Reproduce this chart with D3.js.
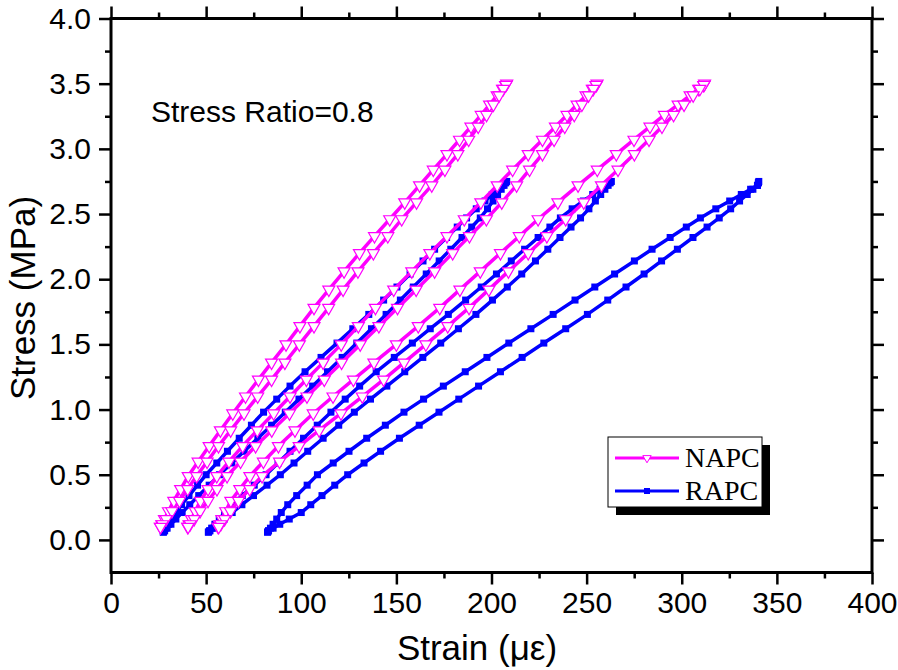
<!DOCTYPE html>
<html><head><meta charset="utf-8">
<script src="https://cdn.jsdelivr.net/npm/d3@7"></script>
<style>body{margin:0;background:#fff}svg{display:block}</style>
</head><body>
<svg id="chart" width="898" height="670"></svg>
<script>
// ---- tick labels ----
const xTicks = [0, 50, 100, 150, 200, 250, 300, 350, 400];
const xMinorTicks = [25, 75, 125, 175, 225, 275, 325, 375];
const yTicks = [0.0, 0.5, 1.0, 1.5, 2.0, 2.5, 3.0, 3.5, 4.0];
const yMinorTicks = [0.25, 0.75, 1.25, 1.75, 2.25, 2.75, 3.25, 3.75];
const seriesNames = ["NAPC", "RAPC"];
const annotation = "Stress Ratio=0.8";

// ---- NAPC (stress levels shared by the three loops, MPa) ----
const stressNAPC = [0.10,0.12,0.16,0.22,0.30,0.39,0.49,0.60,0.72,0.84,0.97,1.10,1.23,1.36,1.50,1.64,1.78,1.92,2.06,2.20,2.33,2.46,2.59,2.72,2.84,2.96,3.07,3.17,3.26,3.34,3.41,3.46,3.49,3.50];
// strain (με) – left / right branch of each loop
const napc1Left  = [26,26.7,28.1,30.2,33,36.6,40.6,45.8,51.6,57.5,64,70.7,77.5,84.4,92,99.3,106.7,114.5,122.5,130.6,138.5,146.5,154.4,162.2,169.4,176.6,183.2,189.2,194.6,199,203,205.8,207.4,208];
const napc1Right = [26,27,29,32,36,40.3,45,50.5,56.5,62.9,69.9,77.1,84.4,91.4,99,106.7,114.4,122,129.8,137.9,145.5,152.8,160.6,168.6,175.5,182.3,188,193,197.4,201,204,206.2,207.6,208];
const napc2Left  = [40.3,41,42.3,44.3,47,51,55.6,62,69.2,76.9,85.5,94.1,102.7,111.5,121,130,139,148.6,158.1,167.6,176.6,185.7,194.4,203,211.1,219.3,226.8,233.6,239.7,245,249.7,253,255,255.5];
const napc2Right = [40.5,41.6,43.7,46.8,51,55.7,61,68.1,76,84.5,93.8,103,112.1,121.2,131,140.8,150.6,160.4,170.1,179.6,188.4,197.3,205.4,213.2,220,226.8,232.9,238.5,243.5,247.5,251,253.5,255,255.5];
const napc3Left  = [56.3,57,58.3,60.3,63,67.7,73,80.1,88,96.7,106.3,116.7,127.4,138.2,150,161.5,172.8,183.4,194.1,204.7,214.6,224.5,234.9,245.5,255.6,265.6,274.9,283.3,290.9,298.1,304.4,308.9,311.6,312];
const napc3Right = [56.6,57.7,59.7,62.8,67,72.9,79.4,88.6,98.9,109.4,120.9,132.1,143.3,154,165.5,177,188.2,198.6,208.9,219.3,229.1,239,248.5,257.8,266.5,275.1,282.8,289.6,295.7,301.2,306,309.5,311.6,312];

// ---- RAPC ----
const stressRAPC = [0.06,0.07,0.09,0.12,0.16,0.21,0.27,0.34,0.42,0.50,0.59,0.68,0.78,0.88,0.98,1.08,1.18,1.29,1.40,1.51,1.62,1.73,1.84,1.94,2.04,2.14,2.23,2.32,2.40,2.47,2.54,2.60,2.65,2.69,2.72,2.74,2.75];
const rapc1Left  = [27.5,27.9,28.8,30.2,32,34.2,37.1,41,45.5,50,55.6,61.2,67.4,73.8,80.2,87.1,94.1,102,110.4,118.8,127.1,135.5,143.3,150.3,157.2,164,170.1,176.4,182,186.9,192,196.6,200.4,203.4,205.7,207.2,208];
const rapc1Right = [27.5,28.2,29.5,31.5,34.1,37.4,41.4,46.1,51.6,57,63.5,70,77.2,84.4,91.6,98.8,106,113.8,121.5,129.2,136.9,144.6,152.1,158.9,165.7,172.5,178.6,184.5,189.6,194.1,197.9,200.8,203.2,205.1,206.6,207.5,208];
const rapc2Left  = [51.2,51.8,52.9,54.6,56.9,59.7,63.6,69,75.3,81.5,87.8,94.1,101.2,108.4,115.6,123.1,130.7,139.4,148.9,158.4,167.8,177.3,186.4,194.6,202.6,210.4,217.4,224.5,230.7,236.2,242.4,248.3,253.2,257.1,260.1,262,263];
const rapc2Right = [51.2,52,53.7,56.2,59.5,63.7,68.8,74.9,82,89,96.2,103.4,111.5,119.7,127.9,136.4,145,154.4,163.9,173.3,182.6,191.8,200.5,208.3,215.9,223.1,229.6,236,241.8,246.8,251.2,254.6,257.4,259.6,261.3,262.4,263];
const rapc3Left  = [82.3,82.8,83.8,85.2,87.1,89.5,92.9,97.6,103.1,108.5,116.8,125.1,134.4,144.2,154,164.3,174.7,186.2,197.6,209.1,220.7,232.4,243.9,254.3,264.7,275.1,284.4,293.9,302.4,309.8,317.9,325.2,331.3,336.2,339.8,340.3,340.5];
const rapc3Right = [82.3,82.8,85.2,88.7,93.7,100,105,110.9,117.6,124.4,133,141.7,151.6,162,172.4,182.8,193.2,204.7,216.1,227.5,239,250.4,261.1,270.7,280.2,289.4,297.7,305.9,313.3,319.7,325.7,330.4,334.4,337.4,339.8,340.3,340.5];

// ---- build loops (up the left branch, back down the right branch) ----
function loop(stress, left, right) {
  const pts = stress.map((s, i) => [left[i], s]);
  for (let i = stress.length - 2; i >= 0; i--) pts.push([right[i], stress[i]]);
  return pts;
}
const napcLoops = [loop(stressNAPC, napc1Left, napc1Right), loop(stressNAPC, napc2Left, napc2Right), loop(stressNAPC, napc3Left, napc3Right)];
const rapcLoops = [loop(stressRAPC, rapc1Left, rapc1Right), loop(stressRAPC, rapc2Left, rapc2Right), loop(stressRAPC, rapc3Left, rapc3Right)];

const MAGENTA = "#ff00ff", BLUE = "#0000ff";
const SANS = "'Liberation Sans', Arial, Helvetica, sans-serif";
const SERIF = "'Liberation Serif', 'Times New Roman', serif";

const svg = d3.select("#chart");
const L = 111, R = 872, T = 18.5, B = 572.5;
const x = d3.scaleLinear().domain([0, 400]).range([L, R]);
const y = d3.scaleLinear().domain([-0.25, 4.0]).range([B, T]);

const line = d3.line().x(d => x(d[0])).y(d => y(d[1]));
const triPath = "M-6,-3.5 L6,-3.5 L0,6.9 Z";

const plot = svg.append("g");
function drawRAPC() {
  rapcLoops.forEach(pts => {
    plot.append("path").attr("d", line(pts)).attr("fill", "none")
      .attr("stroke", BLUE).attr("stroke-width", 3.5).attr("stroke-linejoin", "round");
    plot.append("g").selectAll("rect").data(pts).join("rect")
      .attr("x", d => x(d[0]) - 3.5).attr("y", d => y(d[1]) - 3.5)
      .attr("width", 7).attr("height", 7).attr("fill", BLUE);
  });
}
function drawNAPC() {
  napcLoops.forEach(pts => {
    plot.append("path").attr("d", line(pts)).attr("fill", "none")
      .attr("stroke", MAGENTA).attr("stroke-width", 3.5).attr("stroke-linejoin", "round");
    plot.append("g").selectAll("path").data(pts).join("path")
      .attr("d", triPath)
      .attr("transform", d => `translate(${x(d[0])},${y(d[1])})`)
      .attr("fill", "#fff").attr("stroke", MAGENTA).attr("stroke-width", 1.2);
  });
}
drawRAPC();
drawNAPC();

// ---- axes ----
function styleAxis(g) {
  g.select(".domain").remove();
  g.selectAll(".tick line").attr("stroke", "#000").attr("stroke-width", 2.5);
  g.selectAll(".tick text").attr("font-family", SANS).attr("font-size", 30).attr("fill", "#000");
}
svg.append("g").attr("transform", `translate(0,${B})`)
  .call(d3.axisBottom(x).tickValues(xTicks).tickSize(12).tickPadding(7).tickFormat(d3.format("d")))
  .call(styleAxis);
svg.append("g").attr("transform", `translate(0,${B})`)
  .call(d3.axisBottom(x).tickValues(xMinorTicks).tickSize(6).tickFormat(""))
  .call(styleAxis);
svg.append("g").attr("transform", `translate(${L},0)`)
  .call(d3.axisLeft(y).tickValues(yTicks).tickSize(12).tickPadding(8).tickFormat(d3.format(".1f")))
  .call(styleAxis);
svg.append("g").attr("transform", `translate(${L},0)`)
  .call(d3.axisLeft(y).tickValues(yMinorTicks).tickSize(6).tickFormat(""))
  .call(styleAxis);
svg.append("g").attr("transform", `translate(0,${T})`)
  .call(d3.axisTop(x).tickValues(xTicks).tickSize(12).tickFormat(""))
  .call(styleAxis);
svg.append("g").attr("transform", `translate(0,${T})`)
  .call(d3.axisTop(x).tickValues(xMinorTicks).tickSize(6).tickFormat(""))
  .call(styleAxis);
svg.append("g").attr("transform", `translate(${R},0)`)
  .call(d3.axisRight(y).tickValues(yTicks).tickSize(12).tickFormat(""))
  .call(styleAxis);
svg.append("g").attr("transform", `translate(${R},0)`)
  .call(d3.axisRight(y).tickValues(yMinorTicks).tickSize(6).tickFormat(""))
  .call(styleAxis);

svg.append("rect").attr("x", L).attr("y", T).attr("width", R - L).attr("height", B - T)
  .attr("fill", "none").attr("stroke", "#000").attr("stroke-width", 3);

// ---- titles ----
svg.append("text").attr("x", 477).attr("y", 660).attr("text-anchor", "middle")
  .attr("font-family", SANS).attr("font-size", 35).text("Strain (με)");
svg.append("text").attr("transform", "translate(35,298) rotate(-90)").attr("text-anchor", "middle")
  .attr("font-family", SANS).attr("font-size", 35).text("Stress (MPa)");
svg.append("text").attr("x", 151).attr("y", 122)
  .attr("font-family", SANS).attr("font-size", 30).text(annotation);

// ---- legend ----
const lg = svg.append("g");
lg.append("rect").attr("x", 616).attr("y", 445).attr("width", 154).attr("height", 70).attr("fill", "#000");
lg.append("rect").attr("x", 608).attr("y", 437).attr("width", 154).attr("height", 70)
  .attr("fill", "#fff").attr("stroke", "#000").attr("stroke-width", 1);
const legendItems = [{name: seriesNames[0], color: MAGENTA, yy: 458}, {name: seriesNames[1], color: BLUE, yy: 491}];
legendItems.forEach((it, i) => {
  lg.append("line").attr("x1", 615).attr("x2", 679).attr("y1", it.yy).attr("y2", it.yy)
    .attr("stroke", it.color).attr("stroke-width", 3);
  if (i === 0) {
    lg.append("path").attr("d", "M-4.2,-2.4 L4.2,-2.4 L0,4.8 Z").attr("transform", `translate(647,${it.yy})`)
      .attr("fill", "#fff").attr("stroke", MAGENTA).attr("stroke-width", 1);
  } else {
    lg.append("rect").attr("x", 644).attr("y", it.yy - 3).attr("width", 6).attr("height", 6).attr("fill", BLUE);
  }
  lg.append("text").attr("x", 685).attr("y", it.yy + 9).attr("font-family", SERIF)
    .attr("font-size", 28).text(it.name);
});
</script>
</body></html>
